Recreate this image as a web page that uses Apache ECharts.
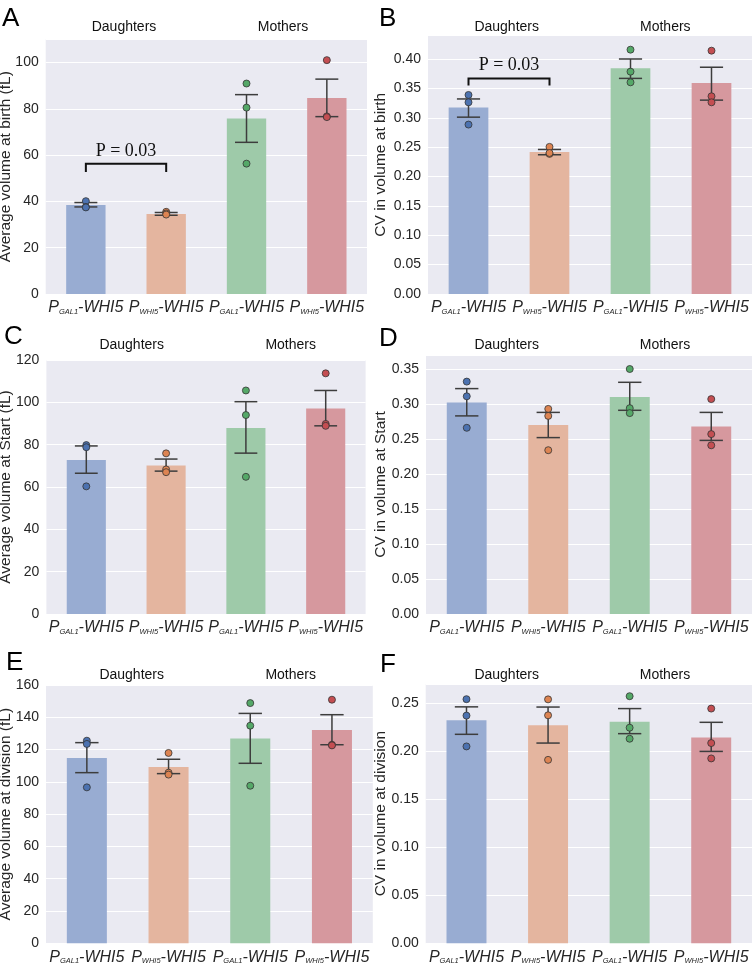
<!DOCTYPE html>
<html>
<head>
<meta charset="utf-8">
<script src="https://cdn.jsdelivr.net/npm/echarts@6/dist/echarts.min.js"></script>
<style>
html,body{margin:0;padding:0;background:#fff;}
#chart{width:752px;height:971px;}
</style>
</head>
<body>
<div id="chart"></div>
<script>
// ---------------- DATA ----------------
const categories = ['0', '1', '2', '3'];
const promoterLabels = ['GAL1', 'WHI5', 'GAL1', 'WHI5'];
const groupLabels = ['Daughters', 'Mothers'];
const panelLetters = ['A', 'B', 'C', 'D', 'E', 'F'];
const yTitles = [
  'Average volume at birth (fL)',
  'CV in volume at birth',
  'Average volume at Start (fL)',
  'CV in volume at Start',
  'Average volume at division (fL)',
  'CV in volume at division'
];

// A: average volume at birth
const birthVolMean = [38.4, 34.6, 75.8, 84.6];
const birthVolLow = [37.6, 34.0, 65.5, 76.6];
const birthVolHigh = [39.5, 35.2, 86.1, 92.8];
const birthVolPts = [[40.1, 37.6, 37.4], [35.5, 34.8, 34.3], [90.9, 80.5, 56.3], [101.0, 76.7, 76.4]];
const birthVolBracket = [0, 1, 56.2, 52.7, 61.6];

// B: CV in volume at birth
const birthCvMean = [0.3175, 0.2415, 0.3843, 0.359];
const birthCvLow = [0.301, 0.237, 0.367, 0.330];
const birthCvHigh = [0.332, 0.246, 0.400, 0.386];
const birthCvPts = [[0.3388, 0.3263, 0.2884], [0.2504, 0.2385, 0.240], [0.4159, 0.3785, 0.3603], [0.4142, 0.3365, 0.3263]];
const birthCvBracket = [0, 1, 0.3668, 0.355, 0.389];

const pLabel = 'P = 0.03';

// C: average volume at Start
const startVolMean = [72.8, 70.2, 87.9, 97.1];
const startVolLow = [66.5, 67.5, 76.0, 88.9];
const startVolHigh = [79.4, 73.2, 100.3, 105.6];
const startVolPts = [[79.8, 78.8, 60.3], [75.9, 68.3, 67.0], [105.6, 94.0, 64.8], [113.7, 89.8, 88.9]];

// D: CV in volume at Start
const startCvMean = [0.302, 0.270, 0.310, 0.268];
const startCvLow = [0.283, 0.252, 0.291, 0.248];
const startCvHigh = [0.322, 0.288, 0.331, 0.288];
const startCvPts = [[0.332, 0.311, 0.266], [0.293, 0.283, 0.234], [0.350, 0.294, 0.287], [0.307, 0.257, 0.241]];

// E: average volume at division
const divVolMean = [114.8, 109.2, 126.8, 132.1];
const divVolLow = [105.7, 105.1, 111.5, 123.0];
const divVolHigh = [124.3, 114.0, 142.4, 141.6];
const divVolPts = [[125.5, 123.5, 96.6], [117.9, 105.7, 104.5], [148.8, 134.8, 97.6], [150.9, 123.0, 122.6]];

// F: CV in volume at division
const divCvMean = [0.2322, 0.227, 0.2308, 0.2144];
const divCvLow = [0.2176, 0.2085, 0.2183, 0.1998];
const divCvHigh = [0.2462, 0.246, 0.2444, 0.2301];
const divCvPts = [[0.2542, 0.2371, 0.205], [0.254, 0.2374, 0.191], [0.2573, 0.2245, 0.213], [0.2444, 0.2085, 0.1925]];

const yMaxes = [110, 0.44, 120, 0.37, 160, 0.27];
const yIntervals = [20, 0.05, 20, 0.05, 20, 0.05];

// ---------------- STYLE / LAYOUT ----------------
const barColors = ['#98acd2', '#e4b59f', '#9ecaa9', '#d6989e'];
const pointColors = ['#4c72b0', '#dd8452', '#55a868', '#c44e52'];
const FONT = "'Liberation Sans', Arial, sans-serif";
const TXT = '#262626';

const grids = [
  {left: 45.7, top: 39.3, width: 321.3, height: 254.7},
  {left: 428, top: 35.5, width: 324, height: 258.5},
  {left: 46.4, top: 360, width: 319.2, height: 254},
  {left: 426, top: 355, width: 326, height: 259},
  {left: 46, top: 685, width: 326.8, height: 258.3},
  {left: 425.7, top: 684, width: 326.3, height: 259.3}
];
const nameGaps = [31.5, 39, 32.2, 37, 31.8, 37];
const letterPos = [[2, 6], [379, 6], [4, 324], [379, 326], [6, 650], [380, 652]];
const groupPos = [
  [[124, 20], [283, 20]], [[506.7, 20], [665.3, 20]],
  [[131.7, 338], [290.7, 338]], [[506.7, 338], [665, 338]],
  [[131.7, 668], [290.7, 668]], [[506.7, 668], [665, 668]]
];

const panelData = [
  {mean: birthVolMean, low: birthVolLow, high: birthVolHigh, pts: birthVolPts, bracket: birthVolBracket, cv: false},
  {mean: birthCvMean, low: birthCvLow, high: birthCvHigh, pts: birthCvPts, bracket: birthCvBracket, cv: true},
  {mean: startVolMean, low: startVolLow, high: startVolHigh, pts: startVolPts, cv: false},
  {mean: startCvMean, low: startCvLow, high: startCvHigh, pts: startCvPts, cv: true},
  {mean: divVolMean, low: divVolLow, high: divVolHigh, pts: divVolPts, cv: false},
  {mean: divCvMean, low: divCvLow, high: divCvHigh, pts: divCvPts, cv: true}
];

function renderErr(params, api) {
  const x = api.value(0);
  const p1 = api.coord([x, api.value(1)]);
  const p2 = api.coord([x, api.value(2)]);
  const band = api.size([1, 0])[0];
  const cw = band * 0.143;
  const st = {stroke: '#3d3d3d', lineWidth: 1.5};
  return {
    type: 'group',
    children: [
      {type: 'line', shape: {x1: p1[0], y1: p1[1], x2: p2[0], y2: p2[1]}, style: st},
      {type: 'line', shape: {x1: p1[0] - cw, y1: p1[1], x2: p1[0] + cw, y2: p1[1]}, style: st},
      {type: 'line', shape: {x1: p2[0] - cw, y1: p2[1], x2: p2[0] + cw, y2: p2[1]}, style: st}
    ]
  };
}

function renderBracket(params, api) {
  const a = api.value(0), b = api.value(1);
  const top = api.value(2), bot = api.value(3), ty = api.value(4);
  const pa = api.coord([a, top]), pb = api.coord([b, top]);
  const qa = api.coord([a, bot]), qb = api.coord([b, bot]);
  const pt = api.coord([a, ty]);
  const st = {stroke: '#111', lineWidth: 2, fill: null};
  return {
    type: 'group',
    children: [
      {type: 'polyline', shape: {points: [[qa[0], qa[1]], [pa[0], pa[1]], [pb[0], pb[1]], [qb[0], qb[1]]]}, style: st},
      {type: 'text', x: (pa[0] + pb[0]) / 2, y: pt[1],
        style: {text: pLabel, font: "18px 'Liberation Serif', 'Times New Roman', serif", fill: '#111',
          align: 'center', verticalAlign: 'middle', textAlign: 'center', textVerticalAlign: 'middle'}}
    ]
  };
}

const option = {
  animation: false,
  backgroundColor: '#ffffff',
  grid: [], xAxis: [], yAxis: [], series: [], title: []
};

panelData.forEach((pd, k) => {
  const g = grids[k];
  option.grid.push(Object.assign({show: true, backgroundColor: '#eaeaf2', borderWidth: 0, containLabel: false, outerBoundsMode: 'none'}, g));
  option.xAxis.push({
    type: 'category', gridIndex: k, data: categories,
    axisLine: {show: false}, axisTick: {show: false}, splitLine: {show: false},
    axisLabel: {
      margin: 4,
      interval: 0,
      hideOverlap: false,
      formatter: (v, i) => '{i|P}{s|' + promoterLabels[i] + '}{i|-WHI5}',
      rich: {
        i: {fontFamily: FONT, fontStyle: 'italic', fontSize: 16, color: TXT, verticalAlign: 'bottom', lineHeight: 18},
        s: {fontFamily: FONT, fontStyle: 'italic', fontSize: 7.5, color: TXT, verticalAlign: 'bottom', lineHeight: 8}
      }
    }
  });
  option.yAxis.push({
    type: 'value', gridIndex: k, min: 0, max: yMaxes[k], interval: yIntervals[k],
    axisLine: {show: false}, axisTick: {show: false},
    splitLine: {show: true, lineStyle: {color: '#ffffff', width: 1.2}},
    axisLabel: {
      fontFamily: FONT, fontSize: 14, color: TXT, margin: 7,
      showMaxLabel: (yMaxes[k] % yIntervals[k] === 0) ? true : false,
      formatter: pd.cv ? (v) => v.toFixed(2) : (v) => String(Math.round(v))
    },
    name: yTitles[k], nameLocation: 'middle', nameGap: nameGaps[k], nameMoveOverlap: false,
    nameTextStyle: {fontFamily: FONT, fontSize: 15.5, color: TXT}
  });
  option.series.push({
    type: 'bar', xAxisIndex: k, yAxisIndex: k, barWidth: '49%', z: 2,
    data: pd.mean.map((v, i) => ({value: v, itemStyle: {color: barColors[i]}}))
  });
  option.series.push({
    type: 'custom', xAxisIndex: k, yAxisIndex: k, z: 3,
    renderItem: renderErr,
    encode: {x: 0, y: [1, 2]},
    data: pd.mean.map((v, i) => [i, pd.low[i], pd.high[i]])
  });
  const pts = [];
  pd.pts.forEach((arr, i) => arr.forEach(v => pts.push({value: [i, v], itemStyle: {color: pointColors[i]}})));
  option.series.push({
    type: 'scatter', xAxisIndex: k, yAxisIndex: k, z: 4, symbolSize: 7,
    itemStyle: {borderColor: '#333', borderWidth: 0.8, opacity: 1},
    data: pts
  });
  if (pd.bracket) {
    option.series.push({
      type: 'custom', xAxisIndex: k, yAxisIndex: k, z: 5,
      renderItem: renderBracket,
      encode: {x: [0, 1], y: [2, 3, 4]},
      data: [pd.bracket]
    });
  }
  option.title.push({
    text: panelLetters[k], left: letterPos[k][0], top: letterPos[k][1], padding: 0,
    textStyle: {fontFamily: FONT, fontSize: 26, fontWeight: 'normal', color: '#000'}
  });
  groupLabels.forEach((gl, j) => {
    option.title.push({
      text: gl, left: groupPos[k][j][0], top: groupPos[k][j][1], padding: 0, textAlign: 'center',
      textStyle: {fontFamily: FONT, fontSize: 14, fontWeight: 'normal', color: '#111'}
    });
  });
});

const chart = echarts.init(document.getElementById('chart'), null, {renderer: 'canvas'});
chart.setOption(option);
</script>
</body>
</html>
